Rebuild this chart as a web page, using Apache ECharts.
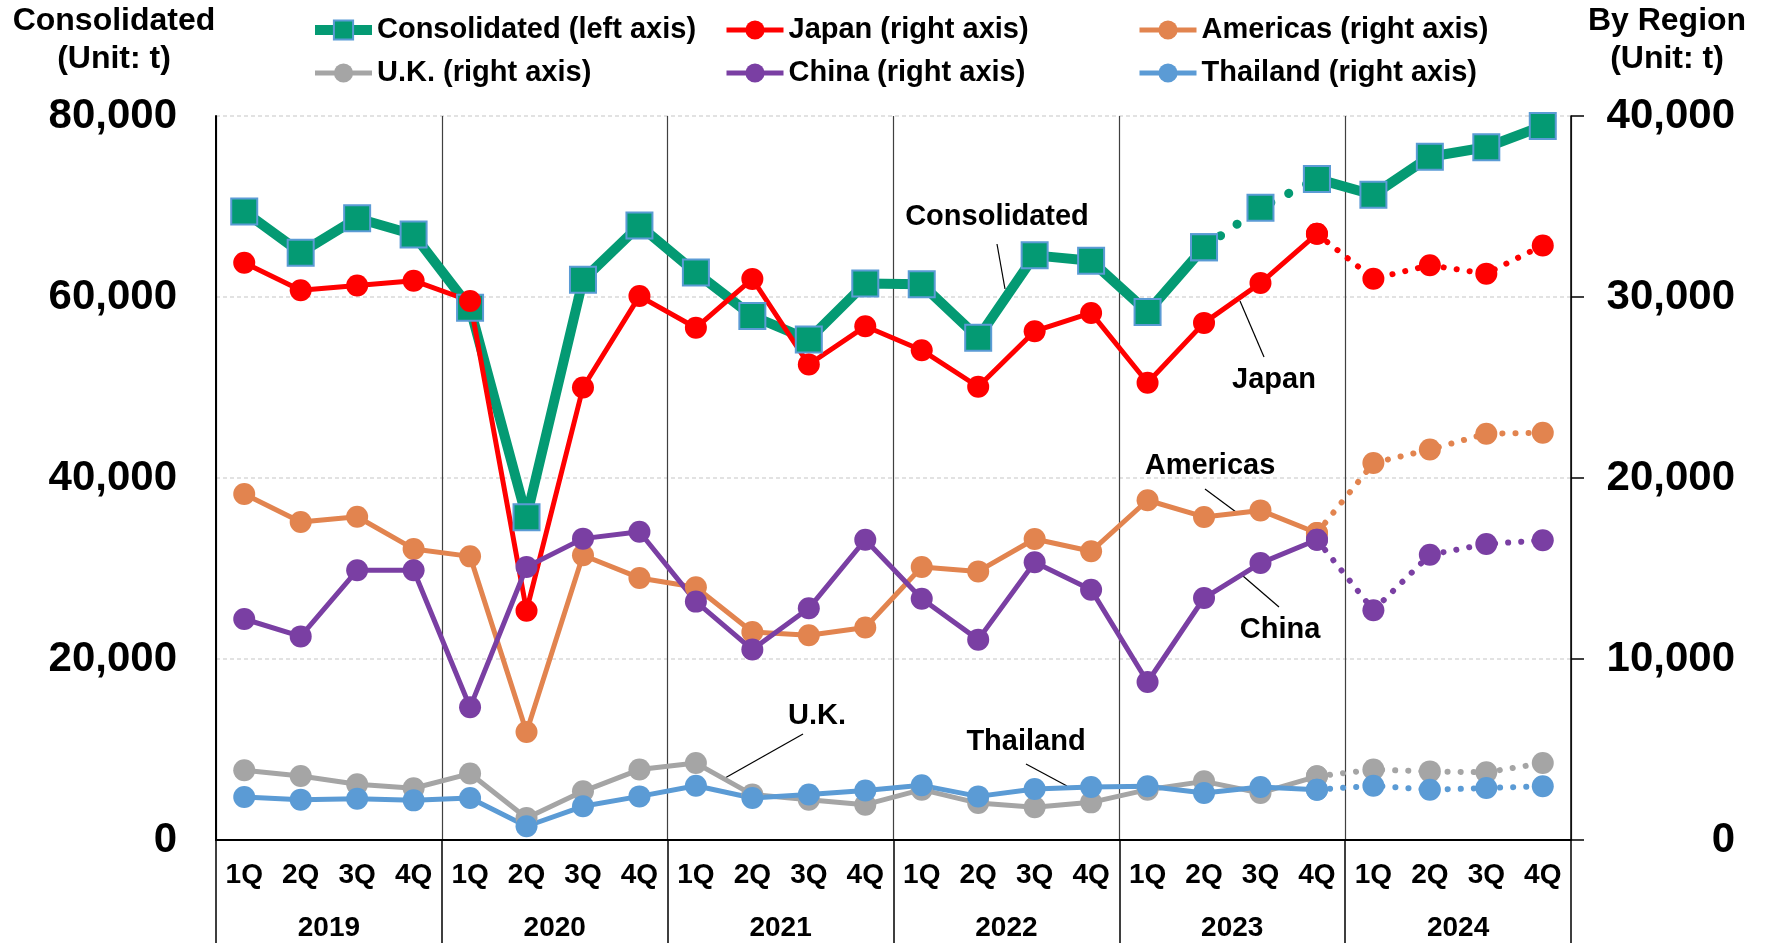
<!DOCTYPE html>
<html>
<head>
<meta charset="utf-8">
<title>Consolidated / By Region</title>
<script src="https://cdn.jsdelivr.net/npm/echarts@6.0.0/dist/echarts.min.js"></script>
<style>
  html, body { margin: 0; padding: 0; background: #fff; }
  #main { width: 1766px; height: 943px; }
</style>
</head>
<body>
<div id="main"></div>
<script>
// data (unit: t)
var years = ['2019', '2020', '2021', '2022', '2023', '2024']
var quarters = ['1Q', '2Q', '3Q', '4Q']

var consolidated = [69450, 64900, 68700, 66900, 58800, 35650, 61900, 67900, 62700, 57900, 55300, 61500,
  61400, 55500, 64600, 64000, 58350, 65500, 69850, 73050, 71300, 75500, 76550, 78900]
var japan = [31890, 30370, 30640, 30900, 29780, 12670, 25000, 30050, 28300, 31000, 26270, 28380,
  27060, 25040, 28110, 29120, 25260, 28570, 30770, 33490, 31010, 31750, 31290, 32850]
var americas = [19120, 17570, 17860, 16080, 15670, 5970, 15730, 14480, 13960, 11490, 11310, 11740,
  15080, 14840, 16630, 15950, 18770, 17850, 18210, 16960, 20830, 21570, 22450, 22500]
var uk = [3850, 3540, 3080, 2860, 3670, 1220, 2690, 3890, 4250, 2510, 2230, 1950,
  2780, 2040, 1810, 2080, 2780, 3240, 2600, 3520, 3890, 3790, 3740, 4250]
var china = [12210, 11250, 14900, 14900, 7330, 15080, 16650, 17030, 13170, 10520, 12800, 16590,
  13330, 11070, 15340, 13830, 8730, 13370, 15300, 16590, 12690, 15760, 16350, 16560]
var thailand = [2380, 2230, 2280, 2190, 2320, 760, 1860, 2410, 3000, 2320, 2510, 2740,
  3020, 2410, 2820, 2930, 2970, 2600, 2930, 2780, 3000, 2780, 2870, 2970]

var names = {
  cons: 'Consolidated (left axis)',
  japan: 'Japan (right axis)',
  americas: 'Americas (right axis)',
  uk: 'U.K. (right axis)',
  china: 'China (right axis)',
  thailand: 'Thailand (right axis)'
}

var FONT = 'Liberation Sans, Arial, sans-serif'

// 2019 1Q ... 2024 4Q
var categories = []
years.forEach(function (y) {
  quarters.forEach(function (q) {
    categories.push(y + ' ' + q)
  })
})

// keep only the points from..to (others null)
function part(values, from, to) {
  return values.map(function (v, i) {
    return (i >= from && i <= to) ? v : null
  })
}

function lineSeries(name, data, color, axis, opts) {
  var s = {
    name: name,
    type: 'line',
    yAxisIndex: axis,
    data: data,
    symbol: 'circle',
    symbolSize: 22,
    showSymbol: true,
    connectNulls: false,
    animation: false,
    lineStyle: { color: color, width: 5 },
    itemStyle: { color: color },
    emphasis: { disabled: true }
  }
  if (opts) {
    for (var k in opts) s[k] = opts[k]
  }
  return s
}

function dotted(color, width, gap) {
  return { color: color, width: width, type: [0.1, gap], cap: 'round' }
}

var GREEN = '#049A73'
var consStyle = { color: GREEN, borderColor: '#5B9BD5', borderWidth: 2 }
var series = [
  lineSeries(names.cons, part(consolidated, 0, 17), GREEN, 0,
    { symbol: 'rect', symbolSize: 26, lineStyle: { color: GREEN, width: 10 }, itemStyle: consStyle }),
  lineSeries(names.cons, part(consolidated, 17, 19), GREEN, 0,
    { symbol: 'rect', symbolSize: 26, lineStyle: dotted(GREEN, 9, 20), itemStyle: consStyle }),
  lineSeries(names.cons, part(consolidated, 19, 23), GREEN, 0,
    { symbol: 'rect', symbolSize: 26, lineStyle: { color: GREEN, width: 10 }, itemStyle: consStyle })
]

var regions = [
  [names.japan, japan, '#FF0000'],
  [names.americas, americas, '#E2844F'],
  [names.uk, uk, '#A5A5A5'],
  [names.china, china, '#7A3FA3'],
  [names.thailand, thailand, '#5B9BD5']
]
regions.forEach(function (r) {
  series.push(lineSeries(r[0], part(r[1], 0, 19), r[2], 1))
  series.push(lineSeries(r[0], part(r[1], 19, 23), r[2], 1, { lineStyle: dotted(r[2], 6, 13) }))
})

function fmt(v) {
  return String(v).replace(/\B(?=(\d{3})+(?!\d))/g, ',')
}

function legendCol(left, data) {
  return {
    left: left,
    top: 15,
    orient: 'vertical',
    padding: 0,
    itemGap: 13,
    itemWidth: 57,
    itemHeight: 24,
    selectedMode: false,
    lineStyle: { width: 'inherit' },
    data: data,
    textStyle: { fontFamily: FONT, fontSize: 29, fontWeight: 'bold', color: '#000', lineHeight: 30 }
  }
}

function note(text, x, y) {
  return {
    type: 'text',
    style: { text: text, x: x, y: y, align: 'center', verticalAlign: 'middle',
      font: 'bold 29px ' + FONT, fill: '#000' }
  }
}
function leader(x1, y1, x2, y2) {
  return {
    type: 'line',
    shape: { x1: x1, y1: y1, x2: x2, y2: y2 },
    style: { stroke: '#000', lineWidth: 1.2 }
  }
}

var option = {
  backgroundColor: '#fff',
  animation: false,
  grid: { left: 216, right: 195, top: 116, bottom: 103, containLabel: false },
  legend: [
    legendCol(310, [names.cons, names.uk]),
    legendCol(724, [names.japan, names.china]),
    legendCol(1137, [names.americas, names.thailand])
  ],
  xAxis: [
    {
      type: 'category',
      data: categories,
      position: 'bottom',
      boundaryGap: true,
      axisLine: { lineStyle: { color: '#000', width: 2 } },
      axisTick: { show: false },
      splitLine: { show: false },
      axisLabel: {
        interval: 0,
        margin: 21,
        fontFamily: FONT,
        fontSize: 28,
        fontWeight: 'bold',
        color: '#000',
        formatter: function (v) { return v.split(' ')[1] }
      }
    },
    {
      type: 'category',
      data: years,
      position: 'bottom',
      boundaryGap: true,
      axisLine: { show: false },
      axisTick: { show: true, interval: 0, length: 104, lineStyle: { color: '#000', width: 1.5 } },
      splitLine: { show: true, interval: 0, lineStyle: { color: '#404040', width: 1.2 } },
      axisLabel: {
        interval: 0,
        margin: 74,
        fontFamily: FONT,
        fontSize: 28,
        fontWeight: 'bold',
        color: '#000'
      }
    }
  ],
  yAxis: [
    {
      type: 'value',
      min: 0,
      max: 80000,
      interval: 20000,
      position: 'left',
      axisLine: { show: true, lineStyle: { color: '#000', width: 2 } },
      axisTick: { show: false },
      splitLine: { show: true, lineStyle: { color: '#D9D9D9', width: 1.5, type: [4, 3] } },
      axisLabel: {
        margin: 39,
        fontFamily: FONT,
        fontSize: 42,
        fontWeight: 'bold',
        color: '#000',
        formatter: fmt
      }
    },
    {
      type: 'value',
      min: 0,
      max: 40000,
      interval: 10000,
      position: 'right',
      axisLine: { show: true, lineStyle: { color: '#000', width: 1.5 } },
      axisTick: { show: true, length: 13, lineStyle: { color: '#000', width: 1.5 } },
      splitLine: { show: false },
      axisLabel: {
        margin: 164,
        align: 'right',
        fontFamily: FONT,
        fontSize: 42,
        fontWeight: 'bold',
        color: '#000',
        formatter: fmt
      }
    }
  ],
  graphic: [
    // axis titles
    {
      type: 'text',
      style: { text: 'Consolidated\n(Unit: t)', x: 114, y: 40, align: 'center', verticalAlign: 'middle',
        font: 'bold 32px ' + FONT, lineHeight: 38, fill: '#000' }
    },
    {
      type: 'text',
      style: { text: 'By Region\n(Unit: t)', x: 1667, y: 40, align: 'center', verticalAlign: 'middle',
        font: 'bold 32px ' + FONT, lineHeight: 38, fill: '#000' }
    },
    // callouts
    note('Consolidated', 997, 217), leader(997, 244, 1005, 289),
    note('Japan', 1274, 380), leader(1240, 301, 1264, 357),
    note('Americas', 1210, 466), leader(1205, 489, 1236, 512),
    note('China', 1280, 630), leader(1243, 576, 1279, 607),
    note('Thailand', 1026, 742), leader(1026, 764, 1067, 786),
    note('U.K.', 817, 716), leader(803, 734, 725, 778)
  ],
  series: series
}

var chart = echarts.init(document.getElementById('main'), null, { renderer: 'canvas' })
chart.setOption(option)
</script>
</body>
</html>
